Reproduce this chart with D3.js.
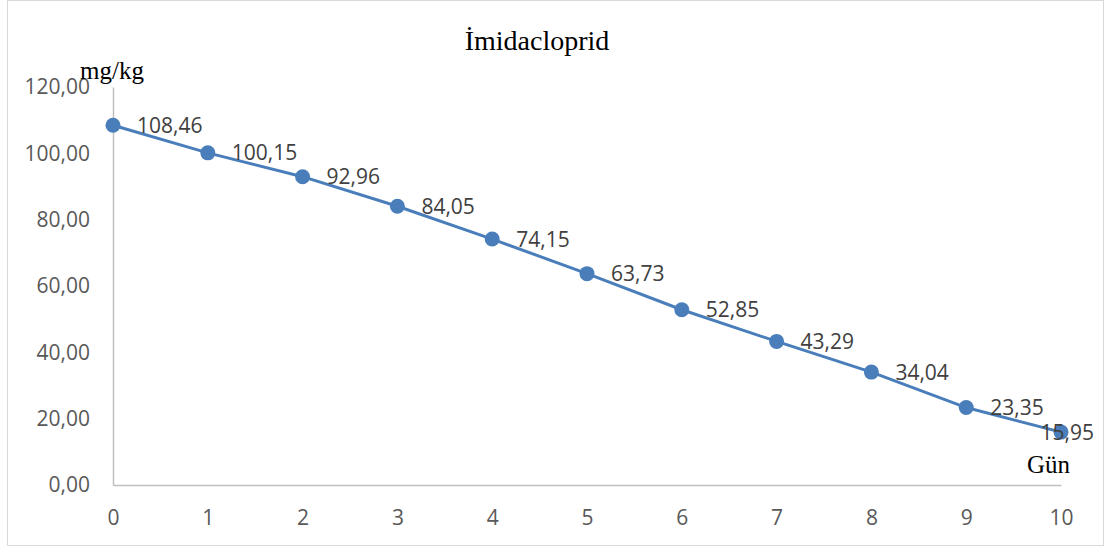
<!DOCTYPE html>
<html><head><meta charset="utf-8">
<script src="https://cdn.jsdelivr.net/npm/d3@7"></script>
<style>body{margin:0;background:#fff}svg{display:block}</style>
</head><body>
<svg id="c" width="1107" height="548"></svg>
<script>
const days = [0,1,2,3,4,5,6,7,8,9,10];
const values = [108.46,100.15,92.96,84.05,74.15,63.73,52.85,43.29,34.04,23.35,15.95];
const yTicks = [0,20,40,60,80,100,120];
const title = "İmidacloprid";
const yTitle = "mg/kg";
const xTitle = "Gün";

const svg = d3.select("#c");
const fmt = v => d3.format(".2f")(v).replace(".", ",");
const x = d3.scaleLinear().domain([0,10]).range([113,1061]);
const y = d3.scaleLinear().domain([0,120]).range([485,87]);
const col = "#4a7ebb";

svg.append("rect").attr("x",7.5).attr("y",0.5).attr("width",1096).attr("height",545)
  .attr("fill","#fff").attr("stroke","#d9d9d9").attr("stroke-width",1);

// axes
const yAxis = d3.axisLeft(y).tickValues(yTicks).tickSize(0).tickPadding(23).tickFormat(fmt);
const gy = svg.append("g").attr("transform","translate(113,0)").call(yAxis);
gy.select(".domain").attr("stroke","#bfbfbf").attr("stroke-width",1.5);
gy.selectAll("text").attr("font-family","Open Sans").attr("font-size",21).attr("fill","#595959");

const xAxis = d3.axisBottom(x).tickValues(days).tickSize(0).tickPadding(25).tickFormat(d3.format("d"));
const gx = svg.append("g").attr("transform","translate(0,485)").call(xAxis);
gx.select(".domain").attr("stroke","#bfbfbf").attr("stroke-width",1.5);
gx.selectAll("text").attr("font-family","Open Sans").attr("font-size",21).attr("fill","#595959");

// line
svg.append("path").datum(values)
  .attr("d", d3.line().x((d,i)=>x(days[i])).y(d=>y(d)))
  .attr("fill","none").attr("stroke",col).attr("stroke-width",3);
svg.selectAll("circle.pt").data(values).join("circle")
  .attr("cx",(d,i)=>x(days[i])).attr("cy",d=>y(d)).attr("r",7.5).attr("fill",col);

// labels
const labels = svg.selectAll("text.lbl").data(values).join("text")
  .attr("class","lbl")
  .attr("x",(d,i)=>x(days[i])+24).attr("y",d=>y(d)).attr("dy","0.36em")
  .attr("font-family","Open Sans").attr("font-size",21).attr("fill","#404040")
  .text(d=>fmt(d));
labels.each(function(){
  const w = this.getComputedTextLength();
  const cx = +d3.select(this).attr("x");
  if (cx + w > 1094) d3.select(this).attr("x", 1094 - w);
});

// titles
svg.append("text").attr("x",537).attr("y",50).attr("text-anchor","middle")
  .attr("font-family","Liberation Serif").attr("font-size",28).attr("fill","#000").text(title);
svg.append("text").attr("x",80).attr("y",79)
  .attr("font-family","Liberation Serif").attr("font-size",25).attr("fill","#000").text(yTitle);
svg.append("text").attr("x",1027).attr("y",473)
  .attr("font-family","Liberation Serif").attr("font-size",25).attr("fill","#000").text(xTitle);
</script>
</body></html>
